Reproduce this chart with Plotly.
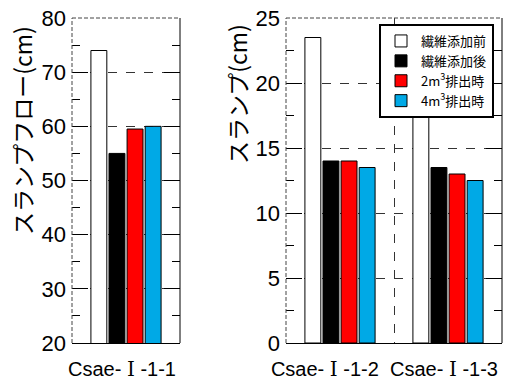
import plotly.graph_objects as go

series = ["繊維添加前", "繊維添加後", "2m<sup>3</sup>排出時", "4m<sup>3</sup>排出時"]
colors = ["#FFFFFF", "#000000", "#FF0000", "#00A9E6"]

ROMAN = "<span style='font-family:DejaVu Serif'>Ⅰ</span>"
cat_flow = ["Csae- " + ROMAN + " -1-1"]
flow_vals = [[74], [55], [59.5], [60]]

cat_slump = ["Csae- " + ROMAN + " -1-2", "Csae- " + ROMAN + " -1-3"]
slump_vals = [[23.5, 17.5], [14, 13.5], [14, 13], [13.5, 12.5]]
slump_ticktext = [cat_slump[0] + "\u00a0" * 4, cat_slump[1]]

FONT = "Liberation Sans, Arial, Noto Sans CJK JP"
W, H = 528, 380
OFF = 8  # page body margin

fig = go.Figure()
for i, name in enumerate(series):
    fig.add_trace(go.Bar(x=cat_flow, y=flow_vals[i], name=name, marker=dict(color=colors[i], line=dict(color="#000000", width=1)),
                         xaxis="x", yaxis="y", showlegend=False))
for i, name in enumerate(series):
    fig.add_trace(go.Bar(x=cat_slump, y=slump_vals[i], name=name, marker=dict(color=colors[i], line=dict(color="#000000", width=1)),
                         xaxis="x2", yaxis="y2", showlegend=True))

def px_x(p):
    return (p - OFF) / W

def px_y(p):
    return 1 - (p - OFF) / H

top, bot = 18, 343
ydom = [px_y(bot), px_y(top)]

yax_common = dict(ticks="inside", ticklen=16, tickwidth=1, tickcolor="#000", showgrid=True, gridcolor="#333",
                  griddash="dash", gridwidth=1, mirror="ticks", showline=False, zeroline=False, automargin=False,
                  ticklabeloverflow="allow", ticklabelstandoff=5,
                  tickfont=dict(size=22, color="#000", family=FONT))

xfont = dict(size=20, color="#000", family=FONT)

fig.update_layout(
    width=W, height=H, margin=dict(l=0, r=0, t=0, b=0),
    paper_bgcolor="white", plot_bgcolor="white",
    barmode="group", bargap=0.33, bargroupgap=0.12,
    font=dict(family=FONT, color="#000"),
    xaxis=dict(domain=[px_x(72), px_x(180)], anchor="y", showline=True, linecolor="#000", linewidth=1,
               ticks="", showgrid=False, tickangle=0, automargin=False, tickfont=xfont,
               ticklabelstandoff=8, ticklabelshift=-4, ticklabeloverflow="allow"),
    yaxis=dict(domain=ydom, anchor="x", range=[20, 80], dtick=10,
               minor=dict(ticks="inside", ticklen=8, dtick=5, tickcolor="#000", showgrid=False), **yax_common),
    xaxis2=dict(domain=[px_x(286), px_x(502)], anchor="y2", showline=True, linecolor="#000", linewidth=1,
                ticks="", tickson="boundaries", showgrid=True, gridcolor="#333", griddash="dash", gridwidth=1,
                tickmode="array", tickvals=cat_slump, ticktext=slump_ticktext,
                tickangle=0, automargin=False, tickfont=xfont,
                ticklabelstandoff=8, ticklabelshift=-4, ticklabeloverflow="allow"),
    yaxis2=dict(domain=ydom, anchor="x2", range=[0, 25], dtick=5,
                minor=dict(ticks="inside", ticklen=8, dtick=2.5, tickcolor="#000", showgrid=False), **yax_common),
    legend=dict(x=px_x(379), y=px_y(24), xanchor="left", yanchor="top", bgcolor="white",
                bordercolor="#000", borderwidth=2, font=dict(size=13, family="Noto Sans CJK JP", color="#000"),
                tracegroupgap=0, itemwidth=30),
)

for xr, yr in [("x domain", "y domain"), ("x2 domain", "y2 domain")]:
    fig.add_shape(type="line", xref=xr, yref=yr, x0=0, x1=1, y0=1, y1=1, line=dict(color="#444", width=1, dash="4px,2px"))
    fig.add_shape(type="line", xref=xr, yref=yr, x0=0, x1=0, y0=0, y1=1, line=dict(color="#444", width=1, dash="4px,2px"))
    fig.add_shape(type="line", xref=xr, yref=yr, x0=1, x1=1, y0=0, y1=1, line=dict(color="#000", width=1))

fig.add_annotation(text="スランプフロー(cm)", textangle=-90, xref="paper", yref="paper", x=px_x(22), y=px_y(131),
                   xanchor="center", yanchor="middle",
                   showarrow=False, font=dict(size=23, family="Noto Sans CJK JP", color="#000"))
fig.add_annotation(text="スランプ(cm)", textangle=-90, xref="paper", yref="paper", x=px_x(237), y=px_y(94),
                   xanchor="center", yanchor="middle",
                   showarrow=False, font=dict(size=23, family="Noto Sans CJK JP", color="#000"))

fig.write_html("out.html")
